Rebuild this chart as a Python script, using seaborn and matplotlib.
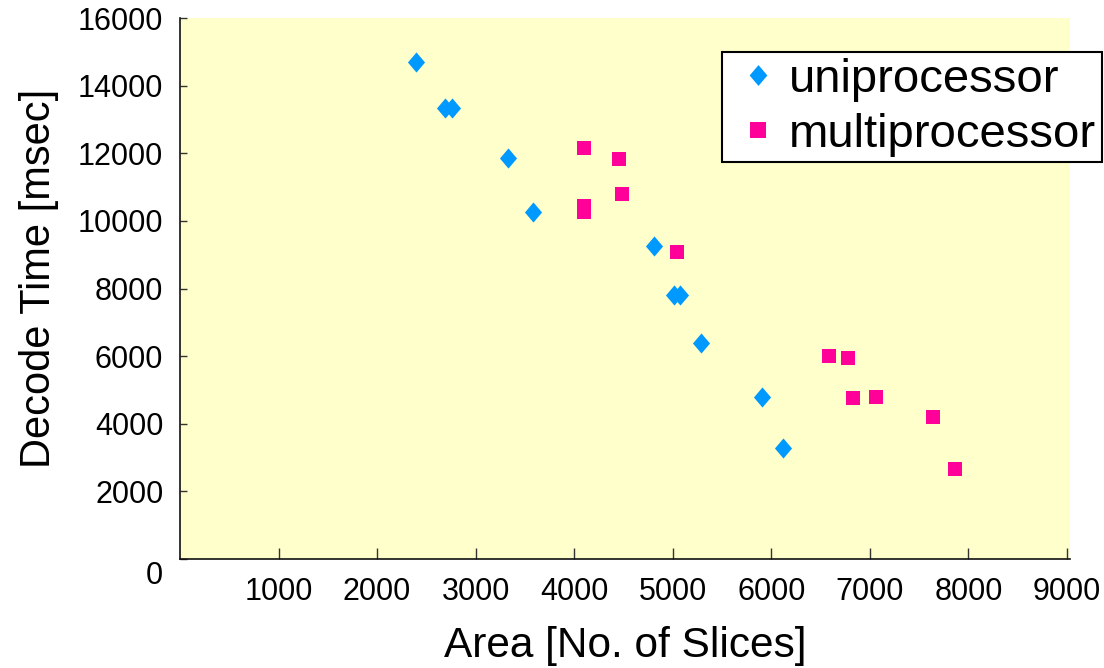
"""
Decode time vs. area scatter - uniprocessor vs multiprocessor designs.
"""

import numpy as np
import pandas as pd
import matplotlib
matplotlib.use("Agg")
import matplotlib.pyplot as plt
import matplotlib.transforms as mtransforms
from matplotlib.path import Path
from matplotlib.lines import Line2D
import seaborn as sns

# Values
uni_area = [2390, 2690, 2760, 3330, 3580, 4810, 5010, 5070, 5290, 5910, 6120]
uni_time = [14700, 13350, 13350, 11850, 10250, 9250, 7820, 7820, 6400, 4780, 3270]

multi_area = [4100, 4450, 4480, 4100, 4100, 5040, 6580, 6780, 6830, 7060, 7640, 7860]
multi_time = [12150, 11830, 10800, 10430, 10260, 9080, 6000, 5940, 4750, 4780, 4200, 2650]

series_names = ["uniprocessor", "multiprocessor"]
x_ticks = [1000, 2000, 3000, 4000, 5000, 6000, 7000, 8000, 9000]
y_ticks = [0, 2000, 4000, 6000, 8000, 10000, 12000, 14000, 16000]

df = pd.DataFrame({
    "area": uni_area + multi_area,
    "time": uni_time + multi_time,
    "kind": [series_names[0]] * len(uni_area) + [series_names[1]] * len(multi_area),
})

sns.set_style("white")
plt.rcParams["font.family"] = ["Liberation Sans", "DejaVu Sans"]
plt.rcParams["text.color"] = "black"
plt.rcParams["axes.labelcolor"] = "black"
plt.rcParams["xtick.color"] = "black"
plt.rcParams["ytick.color"] = "black"

BLUE = "#0099FF"
PINK = "#FF0099"
diamond = Path([(0, 1), (0.85, 0), (0, -1), (-0.85, 0), (0, 1)],
               [Path.MOVETO, Path.LINETO, Path.LINETO, Path.LINETO, Path.CLOSEPOLY])

fig = plt.figure(figsize=(11.04, 6.68), dpi=100)
ax = fig.add_axes([180 / 1104, 1 - 559 / 668, 890 / 1104, 541 / 668])
ax.set_facecolor("#FFFFCC")

sns.scatterplot(data=df[df["kind"] == series_names[0]], x="area", y="time",
                marker=diamond, s=210, color=BLUE, linewidth=0, ax=ax, legend=False)
sns.scatterplot(data=df[df["kind"] == series_names[1]], x="area", y="time",
                marker="s", s=90, color=PINK, linewidth=0, ax=ax, legend=False)

ax.set_xlim(0, 9030)
ax.set_ylim(0, 16000)
ax.set_xticks(x_ticks)
ax.set_yticks(y_ticks)
ax.tick_params(axis="x", bottom=True, direction="in", length=8, width=1.0, pad=13,
               labelsize=22, color="#333333", labelcolor="black")
ax.tick_params(axis="y", left=True, direction="in", length=5, width=1.0, pad=12,
               labelsize=22, color="#333333", labelcolor="black")

for side in ["top", "right"]:
    ax.spines[side].set_visible(False)
for side in ["left", "bottom"]:
    ax.spines[side].set_color("#111111")
    ax.spines[side].set_linewidth(1.2)

# the origin label sits a little below the axis line
lab0 = ax.get_yticklabels()[0]
lab0.set_transform(lab0.get_transform() + mtransforms.ScaledTranslation(0, -14 / 100, fig.dpi_scale_trans))

ax.set_xlabel("Area [No. of Slices]", fontsize=30.5, labelpad=14)
ax.set_ylabel("Decode Time [msec]", fontsize=30)
ax.yaxis.set_label_coords((59 - 180) / 890, 1 - (278 - 18) / 541)

handles = [
    Line2D([], [], linestyle="none", marker=diamond, markersize=15, color=BLUE, markeredgewidth=0),
    Line2D([], [], linestyle="none", marker="s", markersize=12, color=PINK, markeredgewidth=0),
]
leg = fig.legend(handles, series_names, loc="upper right", bbox_to_anchor=(1102 / 1104, 1 - 52 / 668),
                 fontsize=34, frameon=True, fancybox=False, framealpha=1, edgecolor="black",
                 handletextpad=0.02, handlelength=1.29, borderpad=0.12, labelspacing=0.23,
                 borderaxespad=0)
leg.get_frame().set_linewidth(1.5)

fig.savefig("out.png", dpi=100)
